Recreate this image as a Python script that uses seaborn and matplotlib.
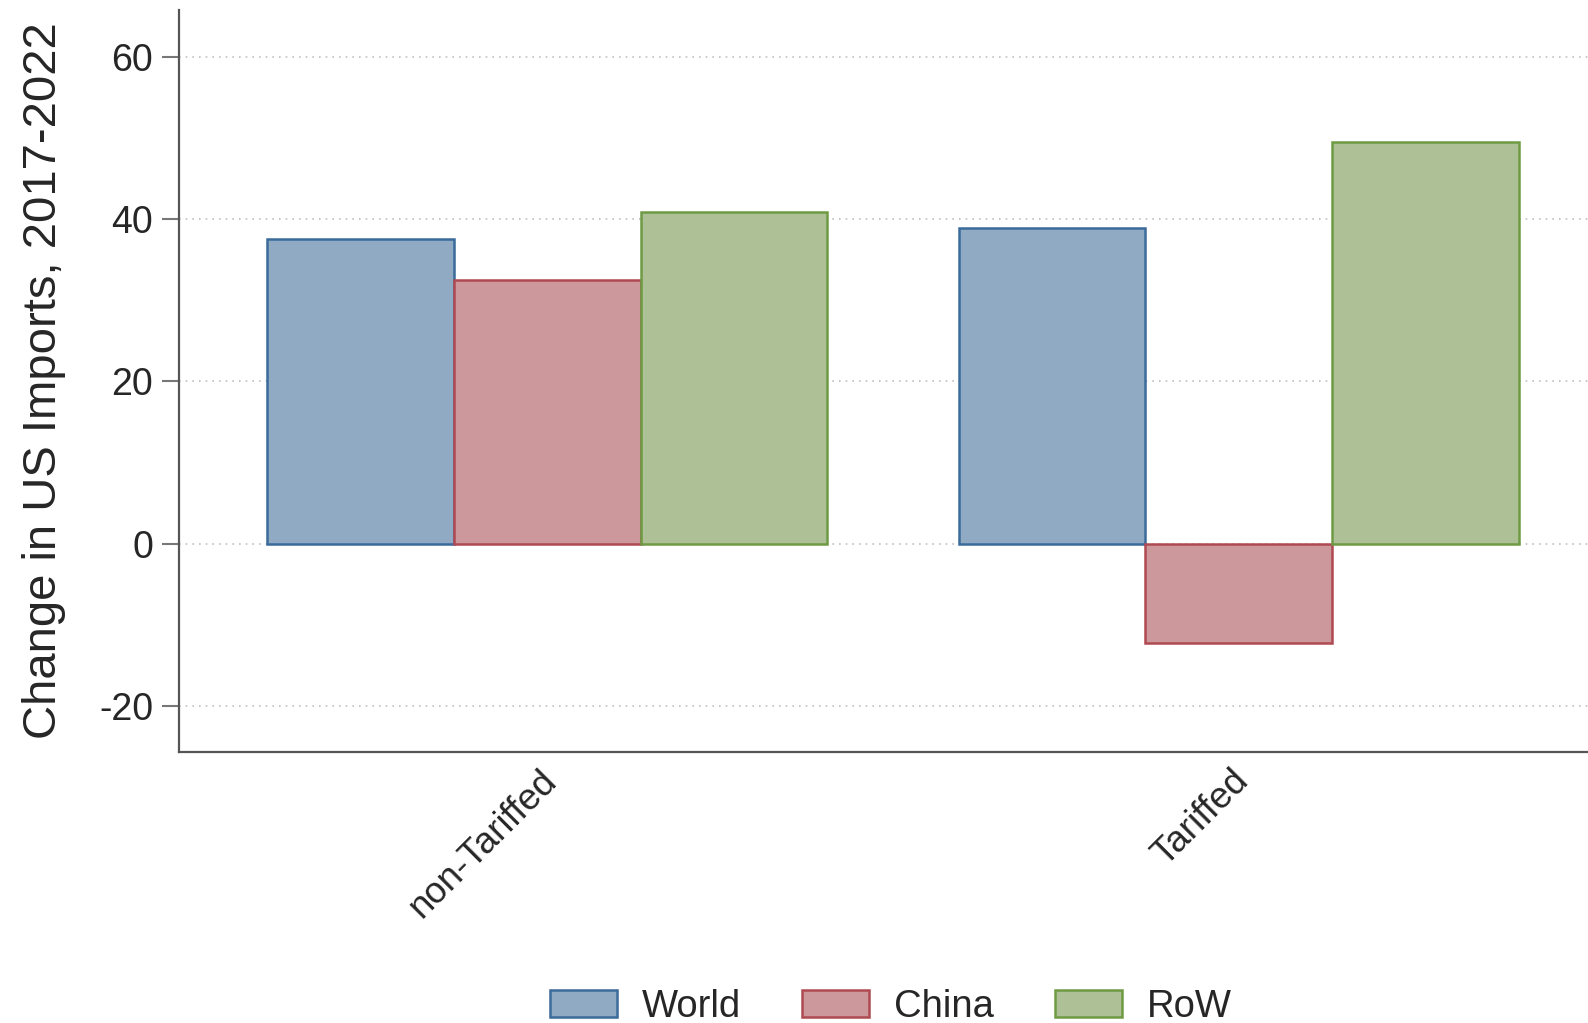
"""
Change in US imports 2017-2022, tariffed vs non-tariffed products
"""

import matplotlib
matplotlib.use('Agg')
import matplotlib.pyplot as plt
import matplotlib.transforms as mtransforms
import seaborn as sns
import pandas as pd

# Data
categories = ['non-Tariffed', 'Tariffed']
sources = ['World', 'China', 'RoW']
world = [37.6, 38.9]
china = [32.5, -12.3]
row = [40.9, 49.5]

fill_colors = ['#8FAAC2', '#CC989B', '#AEC096']
edge_colors = ['#3B6B9B', '#B04A52', '#6E9A44']

df = pd.DataFrame({
    'category': categories * 3,
    'source': [s for s in sources for _ in categories],
    'change': world + china + row,
})

sns.set_style('white')
plt.rcParams['font.family'] = ['Liberation Sans', 'DejaVu Sans']
plt.rcParams['axes.unicode_minus'] = False

fig = plt.figure(figsize=(15.88, 10.23), dpi=100)
ax = fig.add_axes([0.113, 0.265, 0.887, 0.725])

sns.barplot(data=df, x='category', y='change', hue='source',
            order=categories, hue_order=sources, palette=fill_colors,
            width=0.81, saturation=1, legend=False, ax=ax)

# outline each series in a darker shade
for container, ec in zip(ax.containers, edge_colors):
    for bar in container:
        bar.set_edgecolor(ec)
        bar.set_linewidth(1.8)

ax.set_xlim(-0.532, 1.505)
ax.set_ylim(-25.7, 65.8)
ax.set_yticks([-20, 0, 20, 40, 60])
ax.yaxis.grid(True, linestyle=(0, (1, 3)), color='#C0C0C0', linewidth=1.2)
ax.set_axisbelow(True)

ax.set_xlabel('')
ax.set_ylabel('Change in US Imports, 2017-2022', fontsize=34, labelpad=24)
ax.tick_params(axis='y', labelsize=27, length=12, width=1.5, color='#777777', left=True, pad=7)
ax.tick_params(axis='x', labelsize=26.5, length=0, pad=8)
shift = mtransforms.ScaledTranslation(-8 / 100, 0, fig.dpi_scale_trans)
for lbl in ax.get_xticklabels():
    lbl.set_rotation(45)
    lbl.set_ha('right')
    lbl.set_rotation_mode('anchor')
    lbl.set_transform(lbl.get_transform() + shift)

for side in ['top', 'right']:
    ax.spines[side].set_visible(False)
for side in ['left', 'bottom']:
    ax.spines[side].set_color('#555555')
    ax.spines[side].set_linewidth(1.6)

handles = [plt.Rectangle((0, 0), 1, 1, facecolor=fc, edgecolor=ec, linewidth=1.8)
           for fc, ec in zip(fill_colors, edge_colors)]
fig.legend(handles, sources, loc='center', bbox_to_anchor=(0.561, 0.016),
           ncol=3, frameon=False, fontsize=27.5, handlelength=1.75, handleheight=0.7,
           columnspacing=1.6, handletextpad=0.65)

plt.savefig('out.png', dpi=100)
plt.close()
